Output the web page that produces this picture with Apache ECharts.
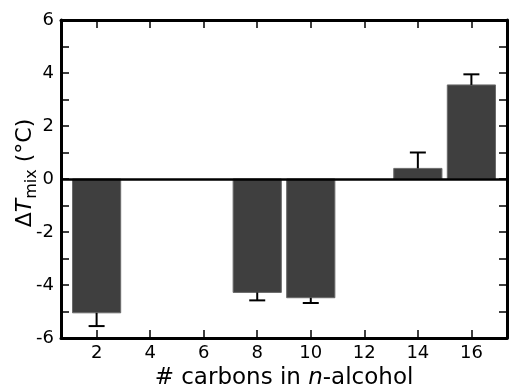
<!DOCTYPE html>
<html>
<head>
<meta charset="utf-8">
<script src="https://cdn.jsdelivr.net/npm/echarts@6/dist/echarts.min.js"></script>
<style>
  html, body { margin: 0; padding: 0; background: #fff; }
  #chart { width: 511px; height: 387px; }
</style>
</head>
<body>
<div id="chart"></div>
<script>
var carbons = [2, 8, 10, 14, 16];
var dTmix = [-5.05, -4.28, -4.48, 0.40, 3.55];
var dTerr = [0.50, 0.30, 0.20, 0.60, 0.40];
var xTicks = [2, 4, 6, 8, 10, 12, 14, 16];

var barW = 1.8;   // bar width in x units
var capHalf = 8;  // error cap half width, px

var chart = echarts.init(document.getElementById('chart'));

var barData = carbons.map(function (c, i) { return [c, dTmix[i], dTerr[i]]; });

var axisFont = 'DejaVu Sans';

option = {
  backgroundColor: '#fff',
  animation: false,
  textStyle: { fontFamily: axisFont, color: '#000' },
  grid: { left: 61, right: 4, top: 20, bottom: 49, containLabel: false, outerBoundsMode: 'none' },
  xAxis: [
    {
      type: 'value',
      min: 0.67,
      max: 17.33,
      name: '{a|# carbons in }{i|n}{a|-alcohol}',
      nameLocation: 'middle',
      nameGap: 29,
      nameMoveOverlap: false,
      nameTextStyle: {
        rich: {
          a: { fontSize: 23, fontFamily: axisFont, color: '#000' },
          i: { fontSize: 23, fontFamily: axisFont, fontStyle: 'italic', color: '#000' }
        }
      },
      axisLine: { show: true, onZero: false, lineStyle: { color: '#000', width: 3 } },
      axisTick: { show: true, inside: true, length: 8, customValues: xTicks, lineStyle: { color: '#000', width: 1.5 } },
      axisLabel: { customValues: xTicks, fontSize: 18, color: '#000', margin: 6, fontFamily: axisFont },
      splitLine: { show: false }
    },
    {
      type: 'value',
      position: 'top',
      min: 0.67,
      max: 17.33,
      axisLine: { show: true, onZero: false, lineStyle: { color: '#000', width: 3 } },
      axisTick: { show: true, inside: true, length: 8, customValues: xTicks, lineStyle: { color: '#000', width: 1.5 } },
      axisLabel: { show: false },
      splitLine: { show: false }
    }
  ],
  yAxis: [
    {
      type: 'value',
      min: -6,
      max: 6,
      interval: 2,
      name: '{a|Δ}{i|T}{s|mix}{a| (°C)}',
      nameLocation: 'middle',
      nameGap: 21,
      nameMoveOverlap: false,
      nameTextStyle: {
        padding: [0, 0, 0, 12],
        rich: {
          a: { fontSize: 22, lineHeight: 30, verticalAlign: 'middle', fontFamily: axisFont, color: '#000' },
          i: { fontSize: 22, lineHeight: 30, verticalAlign: 'middle', fontFamily: axisFont, fontStyle: 'italic', color: '#000' },
          s: { fontSize: 16, lineHeight: 16, verticalAlign: 'bottom', fontFamily: axisFont, color: '#000' }
        }
      },
      axisLine: { show: true, onZero: false, lineStyle: { color: '#000', width: 3 } },
      axisTick: { show: true, inside: true, length: 8, lineStyle: { color: '#000', width: 1.5 } },
      minorTick: { show: true, splitNumber: 2, length: 8, lineStyle: { color: '#000', width: 1.5 } },
      axisLabel: { fontSize: 18, color: '#000', margin: 7, fontFamily: axisFont },
      splitLine: { show: false },
      minorSplitLine: { show: false }
    },
    {
      type: 'value',
      position: 'right',
      min: -6,
      max: 6,
      interval: 2,
      axisLine: { show: true, onZero: false, lineStyle: { color: '#000', width: 3 } },
      axisTick: { show: true, inside: true, length: 8, lineStyle: { color: '#000', width: 1.5 } },
      minorTick: { show: true, splitNumber: 2, length: 8, lineStyle: { color: '#000', width: 1.5 } },
      axisLabel: { show: false },
      splitLine: { show: false },
      minorSplitLine: { show: false }
    }
  ],
  series: [
    {
      name: 'bars',
      type: 'custom',
      xAxisIndex: 0,
      yAxisIndex: 0,
      data: barData,
      z: 2,
      renderItem: function (params, api) {
        var x = api.value(0), v = api.value(1);
        var p0 = api.coord([x - barW / 2, Math.max(v, 0)]);
        var p1 = api.coord([x + barW / 2, Math.min(v, 0)]);
        return {
          type: 'rect',
          shape: { x: p0[0], y: p0[1], width: p1[0] - p0[0], height: p1[1] - p0[1] },
          style: { fill: '#3f3f3f', stroke: '#6a6a6a', lineWidth: 1 }
        };
      },
      markLine: {
        silent: true,
        symbol: 'none',
        label: { show: false },
        lineStyle: { color: '#000', width: 2.5, type: 'solid' },
        data: [{ yAxis: 0 }]
      }
    },
    {
      name: 'errors',
      type: 'custom',
      xAxisIndex: 0,
      yAxisIndex: 0,
      data: barData,
      z: 3,
      renderItem: function (params, api) {
        var x = api.value(0), v = api.value(1), e = api.value(2);
        var end = v + (v < 0 ? -e : e);
        var a = api.coord([x, v]);
        var b = api.coord([x, end]);
        var st = { stroke: '#000', lineWidth: 2 };
        return {
          type: 'group',
          children: [
            { type: 'line', shape: { x1: a[0], y1: a[1], x2: b[0], y2: b[1] }, style: st },
            { type: 'line', shape: { x1: b[0] - capHalf, y1: b[1], x2: b[0] + capHalf, y2: b[1] }, style: st }
          ]
        };
      }
    }
  ]
};

chart.setOption(option);
window.addEventListener('resize', function () {
  chart.resize();
});
</script>
</body>
</html>
